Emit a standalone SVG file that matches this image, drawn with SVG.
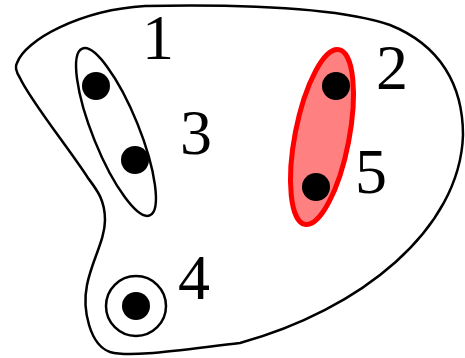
<svg xmlns="http://www.w3.org/2000/svg" width="465" height="358" viewBox="0 0 465 358">
<style>
.ln{fill:none;stroke:#000;stroke-width:2.5}
.dot{fill:#000}
.lbl{font-family:"Liberation Serif",serif;font-size:64px;fill:#000}
</style>
<rect width="465" height="358" fill="#fff"/>
<g id="outer">
<path class="ln" d="M17,63 C25,40 80,10 145,6 C250,4 340,8 390,25 C440,45 463,85 463,135 C460,230 360,310 240,343 C180,350 130,358 110,352 C90,345 82,310 87,285 C92,260 105,240 105,220 C105,200 97,190 88,178 C70,150 30,100 20,78 C15,70 15,66 17,63 Z"/>
</g>
<g id="group13">
<ellipse class="ln" cx="116" cy="132" rx="23" ry="90" transform="rotate(-22 116 132)"/>
</g>
<g id="group25">
<ellipse cx="322" cy="137" rx="27" ry="89" transform="rotate(11 322 137)" fill="#ff8080" stroke="#ff0000" stroke-width="5"/>
</g>
<g id="group4">
<circle class="ln" cx="136" cy="306" r="30"/>
</g>
<g id="node1"><circle class="dot" cx="96" cy="86" r="14"/><text class="lbl" x="142" y="59">1</text></g>
<g id="node3"><circle class="dot" cx="135" cy="160" r="14"/><text class="lbl" x="180" y="154">3</text></g>
<g id="node2"><circle class="dot" cx="336" cy="86" r="14"/><text class="lbl" x="376" y="89">2</text></g>
<g id="node5"><circle class="dot" cx="316" cy="187" r="14"/><text class="lbl" x="355" y="193">5</text></g>
<g id="node4"><circle class="dot" cx="136" cy="306" r="14"/><text class="lbl" x="178" y="299">4</text></g>
<g id="connectors"></g>
</svg>
